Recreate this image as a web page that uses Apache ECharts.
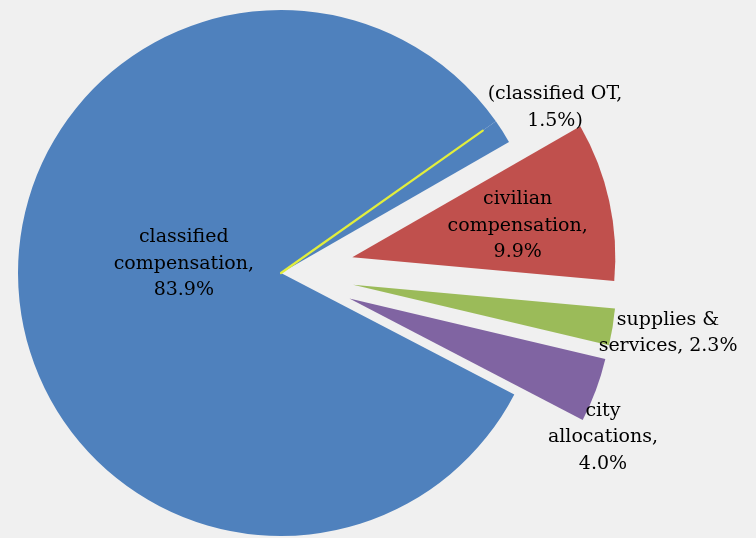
<!DOCTYPE html>
<html>
<head>
<meta charset="utf-8">
<style>
  html, body { margin: 0; padding: 0; background: #f0f0f0; }
  #chart { width: 756px; height: 538px; }
</style>
<script src="https://cdn.jsdelivr.net/npm/echarts@6/dist/echarts.min.js"></script>
</head>
<body>
<div id="chart"></div>
<script>
// ---- data ----
const categories = ['classified compensation', 'classified OT', 'civilian compensation', 'supplies & services', 'city allocations'];
const shares = [83.9, 1.5, 9.9, 2.3, 4.0];
const labelLines = [
  ['classified', 'compensation,', '83.9%'],
  ['(classified OT,', '1.5%)'],
  ['civilian', 'compensation,', '9.9%'],
  ['supplies &', 'services, 2.3%'],
  ['city', 'allocations,', '4.0%']
];
const exploded = [false, false, true, true, true];

// ---- styles ----
const colors = ['#4F81BD', '#4F81BD', '#C0504D', '#9BBB59', '#8064A2'];
const labelPos = ['inside', 'outside', 'inside', 'outside', 'outside'];
const labelNudge = [[37, -18], [-20, -24], [34, -3], [-19, 6], [-53, 47]];
const center = [281, 273];
const radius = 263;
const lineRadius = 247;
const startAngle = -27.5;

const chart = echarts.init(document.getElementById('chart'), null, { renderer: 'canvas' });

const mainData = categories.map((name, i) => ({
  name: name,
  value: shares[i],
  selected: exploded[i],
  itemStyle: { color: colors[i] },
  label: { position: labelPos[i] }
}));

// overlay: a zero-width boundary line between classified compensation and OT
const overlayData = [{ name: categories[0], value: shares[0], itemStyle: { color: 'transparent', borderWidth: 0 } },
  { name: 'OT boundary', value: 0, itemStyle: { color: 'transparent', borderColor: '#e2ee3c', borderWidth: 2.2 } }]
  .concat(categories.slice(1).map((name, i) => ({ name: name, value: shares[i + 1], itemStyle: { color: 'transparent', borderWidth: 0 } })));

const option = {
  backgroundColor: '#f0f0f0',
  animation: false,
  series: [
    {
      type: 'pie',
      center: center,
      radius: radius,
      startAngle: startAngle,
      clockwise: true,
      selectedMode: 'multiple',
      selectedOffset: 73,
      avoidLabelOverlap: false,
      emphasis: { disabled: true },
      itemStyle: { borderWidth: 0 },
      labelLine: { show: false, length: 0, length2: 0 },
      label: {
        show: true,
        color: '#000',
        formatter: function (p) {
          return labelLines[p.dataIndex].map(s => '{t|' + s + '}').join('\n');
        },
        rich: {
          t: {
            align: 'center',
            fontFamily: 'DejaVu Serif',
            fontSize: 19,
            lineHeight: 26.5,
            color: '#000'
          }
        }
      },
      labelLayout: function (params) {
        const n = labelNudge[params.dataIndex];
        return { dx: n[0], dy: n[1] };
      },
      data: mainData
    },
    {
      type: 'pie',
      silent: true,
      z: 5,
      center: center,
      radius: lineRadius,
      startAngle: startAngle,
      clockwise: true,
      label: { show: false },
      labelLine: { show: false },
      emphasis: { disabled: true },
      data: overlayData
    }
  ]
};
chart.setOption(option);
</script>
</body>
</html>
